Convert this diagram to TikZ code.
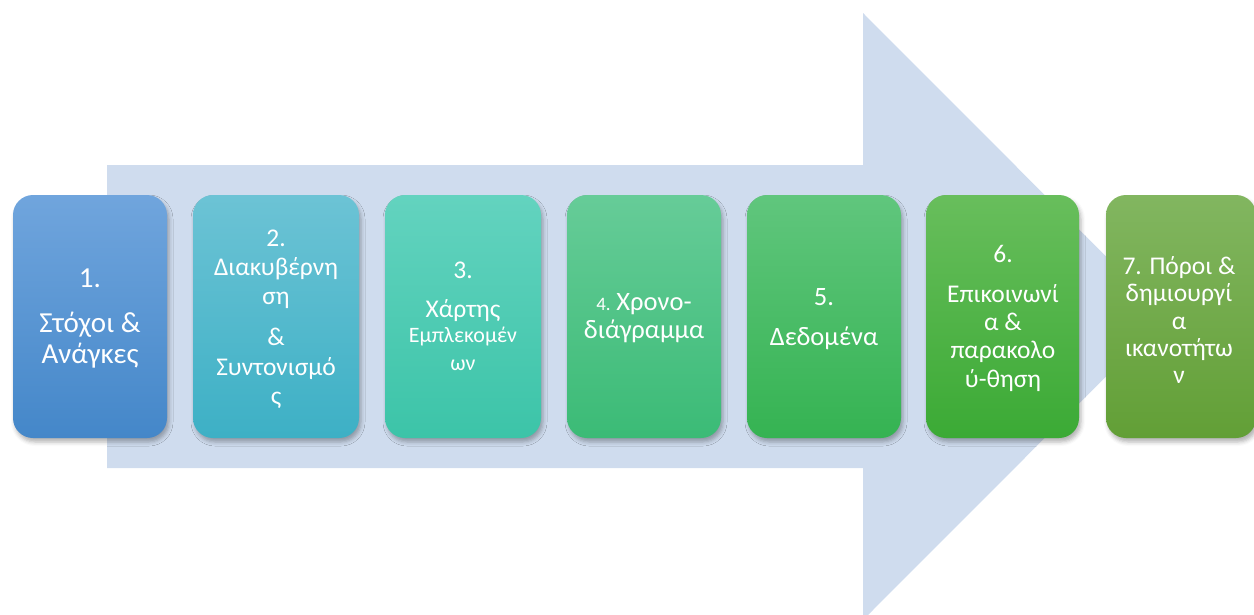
\documentclass[tikz,border=0pt]{standalone}
\usepackage{fontspec}
\setmainfont{Carlito}
\usetikzlibrary{shadows.blur}
\definecolor{arrowc}{HTML}{CFDCEE}
\definecolor{t1}{HTML}{70A5DD}\definecolor{u1}{HTML}{4487C9}
\definecolor{t2}{HTML}{6CC3D5}\definecolor{u2}{HTML}{3DB0C5}
\definecolor{t3}{HTML}{63D3BF}\definecolor{u3}{HTML}{3CC4A8}
\definecolor{t4}{HTML}{66CC98}\definecolor{u4}{HTML}{3BBB76}
\definecolor{t5}{HTML}{60C67D}\definecolor{u5}{HTML}{35B352}
\definecolor{t6}{HTML}{68BE5C}\definecolor{u6}{HTML}{3BAA35}
\definecolor{t7}{HTML}{82B660}\definecolor{u7}{HTML}{629F36}
\tikzset{
  stepbox/.style={rectangle, rounded corners=20pt, minimum height=243pt, inner sep=0pt,
    blur shadow={shadow xshift=2pt, shadow yshift=-4pt, shadow blur radius=4pt, shadow opacity=30}},
  tline/.style={anchor=base, text=white, inner sep=0pt},
}
\newcommand{\tl}[5]{\node[tline, font=\fontsize{#4}{#4}\selectfont] (#1) at (#2,#3) {#5};}
\begin{document}
\begin{tikzpicture}[x=1pt,y=-1pt]
\useasboundingbox (0,0) rectangle (1254,614);
\clip (0,0) rectangle (1254,614);
\fill[arrowc] (107,165) -- (863,165) -- (863,13) -- (1166,316.5) -- (863,620) -- (863,468) -- (107,468) -- cycle;
\node[stepbox, minimum width=154pt, top color=t1, bottom color=u1] (b1) at (90,316.5) {};
\node[stepbox, minimum width=166pt, top color=t2, bottom color=u2] (b2) at (276,316.5) {};
\node[stepbox, minimum width=156pt, top color=t3, bottom color=u3] (b3) at (463,316.5) {};
\node[stepbox, minimum width=154pt, top color=t4, bottom color=u4] (b4) at (644,316.5) {};
\node[stepbox, minimum width=154pt, top color=t5, bottom color=u5] (b5) at (824,316.5) {};
\node[stepbox, minimum width=153pt, top color=t6, bottom color=u6] (b6) at (1002.5,316.5) {};
\node[stepbox, minimum width=150pt, top color=t7, bottom color=u7] (b7) at (1181,316.5) {};
% box 1
\tl{a1}{90}{287}{29}{1.}
\tl{a2}{90}{332}{29}{Στόχοι \&}
\tl{a3}{90}{363}{29}{Ανάγκες}
% box 2
\tl{c1}{276}{246}{25.5}{2.}
\tl{c2}{276}{275}{25.5}{Διακυβέρνη}
\tl{c3}{276}{304}{25.5}{ση}
\tl{c4}{276}{345}{25.5}{\&}
\tl{c5}{276}{375}{25.5}{Συντονισμό}
\tl{c6}{276}{404}{25.5}{ς}
% box 3
\tl{d1}{463}{278}{25.5}{3.}
\tl{d2}{463}{317}{25.5}{Χάρτης}
\tl{d3}{463}{342}{22}{Εμπλεκομέν}
\tl{d4}{463}{370}{22}{ων}
% box 4
\node[tline] (e1) at (644,310) {{\fontsize{19}{19}\selectfont 4. }{\fontsize{26.5}{26.5}\selectfont Χρονο-}};
\tl{e2}{644}{338}{26.5}{διάγραμμα}
% box 5
\tl{f1}{824}{305}{26.5}{5.}
\tl{f2}{824}{345}{26.5}{Δεδομένα}
% box 6
\tl{g1}{1003}{262}{25.5}{6.}
\tl{g2}{1003}{302}{25.5}{Επικοινωνί}
\tl{g3}{1003}{330}{25.5}{α \&}
\tl{g4}{1003}{358}{25.5}{παρακολο}
\tl{g5}{1003}{387}{25.5}{ύ-θηση}
% box 7
\tl{h1}{1179}{274}{25.5}{7. Πόροι \&}
\tl{h2}{1179}{301}{25.5}{δημιουργί}
\tl{h3}{1179}{329}{25.5}{α}
\tl{h4}{1179}{356}{25.5}{ικανοτήτω}
\tl{h5}{1179}{383}{25.5}{ν}
\end{tikzpicture}
\end{document}
